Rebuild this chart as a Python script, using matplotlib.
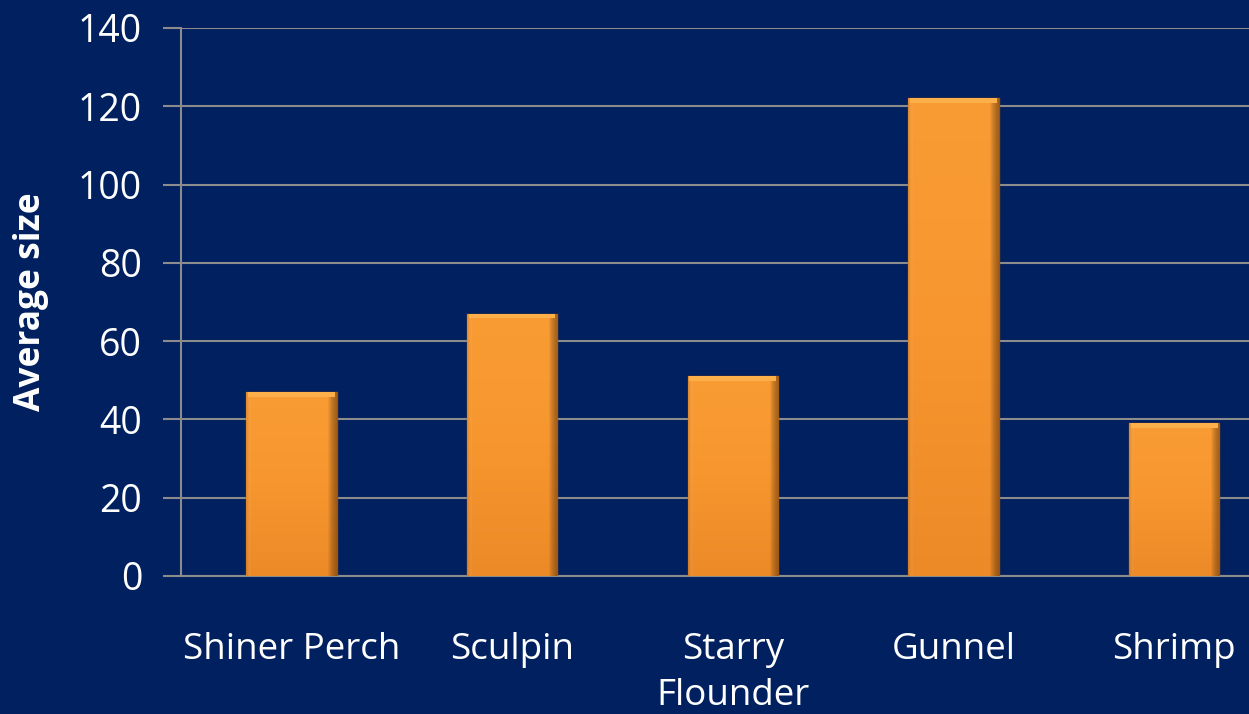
import matplotlib
matplotlib.use("Agg")
import matplotlib.pyplot as plt
import numpy as np
from matplotlib.colors import LinearSegmentedColormap

categories = ["Shiner Perch", "Sculpin", "Starry\nFlounder", "Gunnel", "Shrimp"]
values = [47, 67, 51, 122, 39]
yticks = [0, 20, 40, 60, 80, 100, 120, 140]
ylabel = "Average size"

BG = "#002060"
BAR = "#F7962E"
GRID = "#8C8C8C"

plt.rcParams["font.family"] = ["Open Sans", "DejaVu Sans"]

fig = plt.figure(figsize=(12.49, 7.14), dpi=100, facecolor=BG)
ax = fig.add_axes([181 / 1249, 1 - 576 / 714, 1103.5 / 1249, 548 / 714])
ax.set_facecolor(BG)

x = np.arange(len(categories))
bars = ax.bar(x, values, width=0.41, color=BAR, edgecolor="#9A5212", linewidth=1.0, zorder=3)

grad = np.linspace(0, 1, 256).reshape(-1, 1)
cmap = LinearSegmentedColormap.from_list("b", ["#EC8A28", "#F7962E", "#F99C34"])
hgrad = np.linspace(0, 1, 256).reshape(1, -1)
hcmap = LinearSegmentedColormap.from_list(
    "h", [(0, (0.55, 0.3, 0.05, 0.25)), (0.06, (1, 1, 1, 0.0)), (0.9, (0, 0, 0, 0.0)), (1, (0.35, 0.18, 0.02, 0.55))])
for b in bars:
    x0, y0 = b.get_x(), b.get_y()
    w, h = b.get_width(), b.get_height()
    im = ax.imshow(grad, extent=[x0, x0 + w, y0, y0 + h], origin="lower",
                   cmap=cmap, aspect="auto", zorder=3.5)
    im.set_clip_path(b)
    im2 = ax.imshow(hgrad, extent=[x0, x0 + w, y0, y0 + h], origin="lower",
                    cmap=hcmap, aspect="auto", zorder=3.6)
    im2.set_clip_path(b)
    ax.bar(x0 + w / 2, 1.2, bottom=y0 + h - 1.2, width=w * 0.96, color="#FDB04A",
           linewidth=0, zorder=4)

ax.set_xlim(-0.5, len(categories) - 0.5)
ax.set_ylim(0, 140)
ax.set_yticks(yticks)
ax.set_xticks(x)
ax.set_xticklabels(categories, fontsize=26.5, color="white", linespacing=1.38, va="top")
ax.tick_params(axis="x", length=0, pad=40)
ax.tick_params(axis="y", length=13, width=1.5, color=GRID, labelsize=27, labelcolor="white", pad=15)
ax.yaxis.grid(True, color=GRID, linewidth=1.5, zorder=0)
ax.set_axisbelow(True)
for s in ["top", "right"]:
    ax.spines[s].set_visible(False)
ax.spines["left"].set_color(GRID)
ax.spines["left"].set_linewidth(1.5)
ax.spines["bottom"].set_color(GRID)
ax.spines["bottom"].set_linewidth(1.5)
ax.set_ylabel(ylabel, fontsize=25.5, fontweight="bold", color="white", labelpad=21)

fig.savefig("out.png", dpi=100, facecolor=BG)
